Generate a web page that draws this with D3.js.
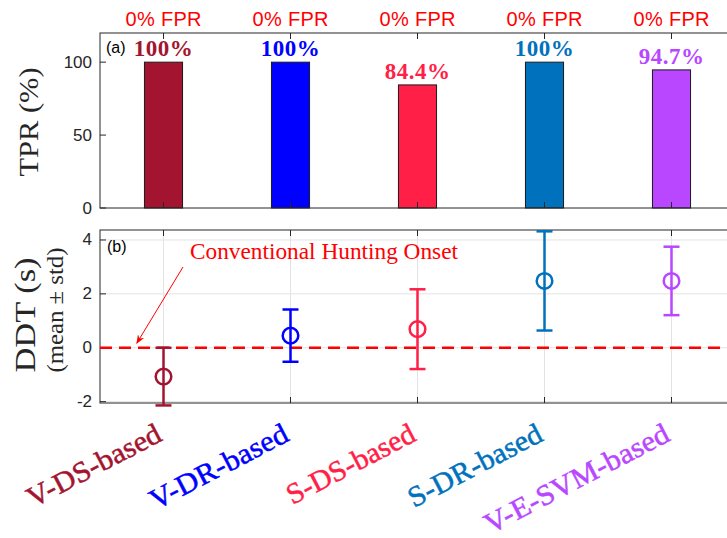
<!DOCTYPE html>
<html>
<head>
<meta charset="utf-8">
<script src="https://cdn.jsdelivr.net/npm/d3@7"></script>
<style>
  html, body { margin: 0; padding: 0; background: #fff; }
</style>
</head>
<body>
<div id="chart"></div>
<script>
const methods = ["V-DS-based", "V-DR-based", "S-DS-based", "S-DR-based", "V-E-SVM-based"];
const colors = ["#A2142F", "#0000FF", "#FF1F47", "#0072BD", "#B847FF"];
const tpr = [100, 100, 84.4, 100, 94.7];
const tprLabels = ["100%", "100%", "84.4%", "100%", "94.7%"];
const fprLabels = ["0% FPR", "0% FPR", "0% FPR", "0% FPR", "0% FPR"];
const ddtMean = [-1.07, 0.45, 0.69, 2.48, 2.48];
const ddtStd = [1.07, 0.97, 1.48, 1.84, 1.27];
const tprTicks = [0, 50, 100];
const ddtTicks = [-2, 0, 2, 4];

const width = 727;
const height = 538;
const axisColor = "#262626";
const gridColor = "#e3e3e3";
const serif = "'Liberation Serif', 'Times New Roman', serif";
const sans = "'Liberation Sans', Arial, sans-serif";

// label lengths (it was typeset in a wider roman)
const catLength = [147, 152, 141, 147, 204];

const svg = d3.select("#chart")
  .append("svg")
  .attr("width", width)
  .attr("height", height);

const defs = svg.append("defs");
defs.append("marker")
  .attr("id", "onset-arrow")
  .attr("viewBox", "0 0 10 10")
  .attr("refX", 9)
  .attr("refY", 5)
  .attr("markerWidth", 9)
  .attr("markerHeight", 9)
  .attr("markerUnits", "userSpaceOnUse")
  .attr("orient", "auto")
  .append("path")
  .attr("d", "M0,1 L10,5 L0,9 L3,5 Z")
  .attr("fill", "#FF0000");

// both panels share the category axis
const x = d3.scaleLinear().domain([0.5, 5.5]).range([100, 735]);
const yTop = d3.scaleLinear().domain([0, 120]).range([208, 33]);
const yBot = d3.scaleLinear().domain([-2.05, 4.37]).range([403, 230]);
const xi = (i) => x(i + 1);

// ---------- (a) TPR bars ----------
const panelA = svg.append("g");

panelA.selectAll(".bar")
  .data(tpr)
  .join("rect")
  .attr("class", "bar")
  .attr("x", (d, i) => x(i + 1 - 0.15))
  .attr("width", x(1.3) - x(1))
  .attr("y", (d) => yTop(d))
  .attr("height", (d) => yTop(0) - yTop(d))
  .attr("fill", (d, i) => colors[i])
  .attr("stroke", "#1a1a1a")
  .attr("stroke-width", 1);

panelA.selectAll(".val")
  .data(tpr)
  .join("text")
  .attr("class", "val")
  .attr("x", (d, i) => xi(i))
  .attr("y", (d) => yTop(d) - 6)
  .attr("text-anchor", "middle")
  .attr("font-family", serif)
  .attr("font-weight", "bold")
  .attr("font-size", "23px")
  .attr("letter-spacing", "0.5px")
  .attr("fill", (d, i) => colors[i])
  .text((d, i) => tprLabels[i]);

panelA.selectAll(".fpr")
  .data(fprLabels)
  .join("text")
  .attr("class", "fpr")
  .attr("x", (d, i) => xi(i))
  .attr("y", 26)
  .attr("text-anchor", "middle")
  .attr("font-family", sans)
  .attr("font-size", "20px")
  .attr("textLength", 76)
  .attr("lengthAdjust", "spacing")
  .attr("fill", "#FF0000")
  .text((d) => d);

function drawFrame(g, y, ticks) {
  const [y0, y1] = y.range();
  const [x0, x1] = x.range();
  g.append("rect")
    .attr("x", x0).attr("y", y1)
    .attr("width", x1 - x0).attr("height", y0 - y1)
    .attr("fill", "none")
    .attr("stroke", axisColor)
    .attr("stroke-width", 1);
  ticks.forEach((t) => {
    g.append("line")
      .attr("x1", x0).attr("x2", x0 + 6)
      .attr("y1", y(t)).attr("y2", y(t))
      .attr("stroke", axisColor);
    g.append("text")
      .attr("x", x0 - 8)
      .attr("y", y(t))
      .attr("text-anchor", "end")
      .attr("dominant-baseline", "central")
      .attr("font-family", sans)
      .attr("font-size", "17px")
      .attr("fill", axisColor)
      .text(t);
  });
  methods.forEach((m, i) => {
    g.append("line")
      .attr("x1", xi(i)).attr("x2", xi(i))
      .attr("y1", y0).attr("y2", y0 - 6)
      .attr("stroke", axisColor);
    g.append("line")
      .attr("x1", xi(i)).attr("x2", xi(i))
      .attr("y1", y1).attr("y2", y1 + 6)
      .attr("stroke", axisColor);
  });
}

drawFrame(panelA, yTop, tprTicks);

panelA.append("text")
  .attr("x", 106)
  .attr("y", 53)
  .attr("font-family", sans)
  .attr("font-size", "16px")
  .attr("fill", "#000")
  .text("(a)");

panelA.append("text")
  .attr("transform", "translate(38,122) rotate(-90)")
  .attr("text-anchor", "middle")
  .attr("font-family", serif)
  .attr("font-size", "27px")
  .attr("textLength", 109)
  .attr("lengthAdjust", "spacingAndGlyphs")
  .attr("fill", axisColor)
  .text("TPR (%)");

// ---------- (b) DDT error bars ----------
const panelB = svg.append("g");

panelB.selectAll(".hgrid")
  .data(ddtTicks)
  .join("line")
  .attr("class", "hgrid")
  .attr("x1", x.range()[0]).attr("x2", x.range()[1])
  .attr("y1", (d) => yBot(d)).attr("y2", (d) => yBot(d))
  .attr("stroke", gridColor)
  .attr("stroke-width", 1);

panelB.selectAll(".vgrid")
  .data(methods)
  .join("line")
  .attr("class", "vgrid")
  .attr("x1", (d, i) => xi(i)).attr("x2", (d, i) => xi(i))
  .attr("y1", yBot.range()[0]).attr("y2", yBot.range()[1])
  .attr("stroke", gridColor)
  .attr("stroke-width", 1);

drawFrame(panelB, yBot, ddtTicks);

panelB.append("line")
  .attr("x1", x.range()[0]).attr("x2", x.range()[1])
  .attr("y1", yBot(0)).attr("y2", yBot(0))
  .attr("stroke", "#FF0000")
  .attr("stroke-width", 2.5)
  .attr("stroke-dasharray", "12,7");

const capW = 8;
ddtMean.forEach((m, i) => {
  const g = panelB.append("g")
    .attr("stroke", colors[i])
    .attr("stroke-width", 2.5)
    .attr("fill", "none");
  const cx = xi(i);
  const hi = yBot(m + ddtStd[i]);
  const lo = yBot(m - ddtStd[i]);
  g.append("line").attr("x1", cx).attr("x2", cx).attr("y1", hi).attr("y2", lo);
  g.append("line").attr("x1", cx - capW).attr("x2", cx + capW).attr("y1", hi).attr("y2", hi);
  g.append("line").attr("x1", cx - capW).attr("x2", cx + capW).attr("y1", lo).attr("y2", lo);
  g.append("circle").attr("cx", cx).attr("cy", yBot(m)).attr("r", 7.8);
});

panelB.append("text")
  .attr("x", 107)
  .attr("y", 252)
  .attr("font-family", sans)
  .attr("font-size", "16px")
  .attr("fill", "#000")
  .text("(b)");

panelB.append("text")
  .attr("x", 190)
  .attr("y", 259)
  .attr("font-family", serif)
  .attr("font-size", "23px")
  .attr("textLength", 268)
  .attr("lengthAdjust", "spacingAndGlyphs")
  .attr("fill", "#FF0000")
  .text("Conventional Hunting Onset");

panelB.append("line")
  .attr("x1", 183).attr("y1", 267)
  .attr("x2", x(0.79)).attr("y2", yBot(0.17))
  .attr("stroke", "#FF0000")
  .attr("stroke-width", 1)
  .attr("marker-end", "url(#onset-arrow)");

panelB.append("text")
  .attr("transform", "translate(35,315) rotate(-90)")
  .attr("text-anchor", "middle")
  .attr("font-family", serif)
  .attr("font-size", "30px")
  .attr("textLength", 115)
  .attr("lengthAdjust", "spacingAndGlyphs")
  .attr("fill", axisColor)
  .text("DDT (s)");

panelB.append("text")
  .attr("transform", "translate(63,310) rotate(-90)")
  .attr("text-anchor", "middle")
  .attr("font-family", serif)
  .attr("font-size", "24px")
  .attr("textLength", 125)
  .attr("lengthAdjust", "spacingAndGlyphs")
  .attr("fill", axisColor)
  .text("(mean \u00B1 std)");

// rotated category labels
svg.selectAll(".cat")
  .data(methods)
  .join("text")
  .attr("class", "cat")
  .attr("transform", (d, i) => `translate(${xi(i)},440) rotate(-27.5)`)
  .attr("text-anchor", "end")
  .attr("font-family", serif)
  .attr("font-size", "29px")
  .attr("textLength", (d, i) => catLength[i])
  .attr("lengthAdjust", "spacingAndGlyphs")
  .attr("fill", (d, i) => colors[i])
  .attr("stroke", (d, i) => colors[i])
  .attr("stroke-width", 0.5)
  .text((d) => d);
</script>
</body>
</html>
